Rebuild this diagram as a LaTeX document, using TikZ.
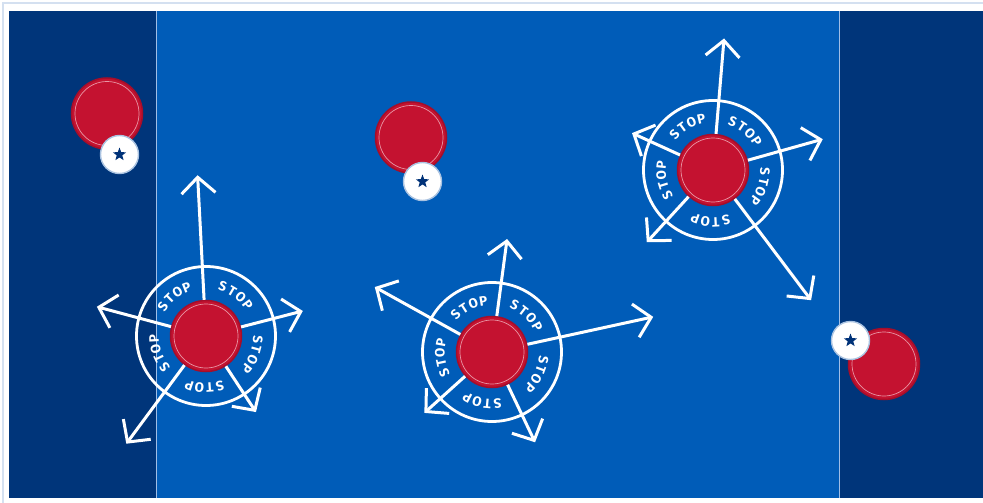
\documentclass[tikz,border=0pt]{standalone}
\usepackage{fontspec}
\newfontfamily\stopfont{Fira Sans}
\usetikzlibrary{calc,arrows.meta,shapes.geometric}
\definecolor{navyf}{RGB}{0,53,122}
\definecolor{bluef}{RGB}{0,92,184}
\definecolor{crim}{RGB}{196,18,48}
\definecolor{crimedge}{RGB}{165,14,42}
\definecolor{pinkl}{RGB}{232,150,165}
\definecolor{framel}{RGB}{212,224,240}
\definecolor{divl}{RGB}{160,190,230}
\definecolor{badgel}{RGB}{170,195,225}
\definecolor{starc}{RGB}{0,50,120}
\tikzset{
  redc/.style={circle, fill=crim, draw=crimedge, line width=1.5pt, minimum size=71pt, inner sep=0pt},
  inring/.style={draw=pinkl, line width=0.7pt},
  ringline/.style={draw=white, line width=2.8pt},
  arr/.style={draw=white, line width=3pt, -{Straight Barb[length=16pt,width=34pt]}},
  stopl/.style={text=white, inner sep=0pt, font=\stopfont\bfseries\fontsize{13.5}{13.5}\selectfont},
  badge/.style={circle, fill=white, draw=badgel, line width=1.4pt, minimum size=38pt, inner sep=0pt},
  starn/.style={star, star points=5, star point ratio=2.4, fill=starc, minimum size=14pt, inner sep=0pt}
}
\newcommand\stopwheel[4]{%
  \node[redc] (#1) at (#2) {};
  \draw[inring] (#1.center) circle (32);
  \draw[ringline] (#1.center) circle (69.5);
  \foreach \ang/\len [count=\i] in {#3} {
    \coordinate (#1-t\i) at ($(#1.center)+(\ang:\len)$);
    \draw[arr] (#1) -- (#1-t\i);
  }
  \foreach \ta [count=\j] in {#4} {
    \foreach \ch [count=\k] in {S,T,O,P} {
      \pgfmathsetmacro\lang{\ta+(2.5-\k)*11.5}
      \node[stopl, rotate=\lang-90] (#1-w\j-\k) at ($(#1.center)+(\lang:52)$) {\ch};
    }
  }
}
\begin{document}
\begin{tikzpicture}[x=1pt,y=1pt]
\useasboundingbox (0,0) rectangle (983,-503);
\fill[white] (0,0) rectangle (983,-503);
\draw[framel, line width=2pt] (3,-503) -- (3,-3) -- (983,-3);
% field
\fill[navyf] (9,-11) rectangle (983,-498);
\fill[bluef] (156.5,-11) rectangle (839.5,-498);
\draw[divl, line width=1.2pt] (156.5,-11) -- (156.5,-498);
\draw[divl, line width=1.2pt] (839.5,-11) -- (839.5,-498);
% lone players
\node[redc] (p1) at (107,-113.5) {};
\draw[inring] (p1.center) circle (32);
\node[badge] (b1) at (119.5,-154.5) {};
\node[starn] (s1) at (b1.center) {};
\node[redc] (p2) at (411,-137.5) {};
\draw[inring] (p2.center) circle (32);
\node[badge] (b2) at (422.5,-181.5) {};
\node[starn] (s2) at (b2.center) {};
\node[redc] (p3) at (884,-364) {};
\draw[inring] (p3.center) circle (32);
\node[badge] (b3) at (850.5,-340.5) {};
\node[starn] (s3) at (b3.center) {};
% wheels
\stopwheel{A}{206,-336}{93/161,165/113,14.5/100,-56.7/91,-126.5/134}{54,-21,-91.6,200,129}
\stopwheel{B}{492,-352}{82.4/114,151/134,12.3/165,222/91,-64.5/100}{47,-26,-101,186.5,117}
\stopwheel{C}{713,-170}{85.2/132,15.7/114,155.5/89,227.5/98,-53/163}{50.5,-18.7,-92.7,191.5,120.3}
\end{tikzpicture}
\end{document}
